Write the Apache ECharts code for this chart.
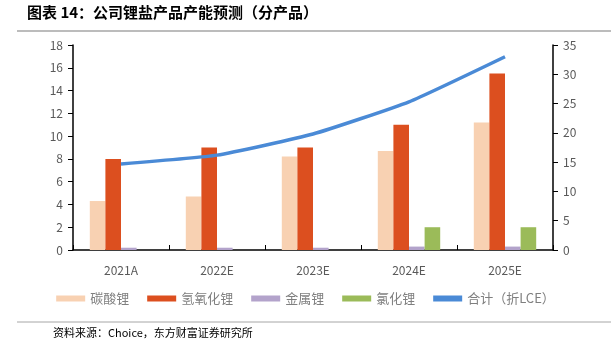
<!DOCTYPE html>
<html>
<head>
<meta charset="utf-8">
<script src="https://cdn.jsdelivr.net/npm/echarts@6/dist/echarts.min.js"></script>
<style>
  html, body { margin: 0; padding: 0; background: #fff; }
  #chart { width: 611px; height: 353px; }
</style>
</head>
<body>
<div id="chart"></div>
<script>
const categories = ['2021A', '2022E', '2023E', '2024E', '2025E'];
const carbonate = [4.3, 4.7, 8.2, 8.7, 11.2];   // 碳酸锂
const hydroxide = [8.0, 9.0, 9.0, 11.0, 15.5];  // 氢氧化锂
const metal = [0.2, 0.2, 0.2, 0.3, 0.3];        // 金属锂
const chloride = [0, 0, 0, 2.0, 2.0];           // 氯化锂
const totalLCE = [14.7, 16.2, 19.8, 25.3, 33.0];// 合计（折LCE）
const leftTicks = { min: 0, max: 18, interval: 2 };
const rightTicks = { min: 0, max: 35, interval: 5 };

const chart = echarts.init(document.getElementById('chart'));
const font = '"Noto Sans CJK SC", "Microsoft YaHei", sans-serif';
const axisColor = '#000';
const labelColor = '#595959';

const barSeries = (name, data, color) => ({
  name, type: 'bar', data, yAxisIndex: 0,
  barGap: '0%', barCategoryGap: '35%',
  itemStyle: { color },
  emphasis: { disabled: true }
});

chart.setOption({
  animation: false,
  textStyle: { fontFamily: font },
  graphic: [
    { type: 'text', left: 27, top: 5, style: { text: '图表 14：公司锂盐产品产能预测（分产品）', font: 'bold 15px ' + font, fill: '#000' } },
    { type: 'line', shape: { x1: 17, y1: 31, x2: 611, y2: 31 }, style: { stroke: '#a6a6a6', lineWidth: 1.5 } },
    { type: 'line', shape: { x1: 17, y1: 322, x2: 611, y2: 322 }, style: { stroke: '#a6a6a6', lineWidth: 1 } },
    { type: 'text', left: 53, top: 327, style: { text: '资料来源：Choice，东方财富证券研究所', font: '11px ' + font, fill: '#000' } }
  ],
  grid: { left: 73, right: 58, top: 45, bottom: 103 },
  legend: {
    bottom: 43, left: 'center', itemGap: 18,
    itemWidth: 29, itemHeight: 6,
    textStyle: { color: '#7f7f7f', fontSize: 13 },
    data: [
      { name: '碳酸锂', icon: 'rect' },
      { name: '氢氧化锂', icon: 'rect' },
      { name: '金属锂', icon: 'rect' },
      { name: '氯化锂', icon: 'rect' },
      { name: '合计（折LCE）', icon: 'rect', itemStyle: { color: '#4a8ad6' } }
    ]
  },
  xAxis: {
    type: 'category', data: categories,
    axisLine: { lineStyle: { color: axisColor, width: 1.5 } },
    axisTick: { show: true, inside: true, length: 5, lineStyle: { color: axisColor } },
    axisLabel: { color: labelColor, fontSize: 12, margin: 14 }
  },
  yAxis: [
    {
      type: 'value', position: 'left', ...leftTicks,
      axisLine: { show: true, lineStyle: { color: axisColor, width: 1.5 } },
      axisTick: { show: true, length: 5, lineStyle: { color: axisColor } },
      axisLabel: { color: labelColor, fontSize: 12, margin: 10 },
      splitLine: { show: false }
    },
    {
      type: 'value', position: 'right', ...rightTicks,
      axisLine: { show: true, lineStyle: { color: axisColor, width: 1.5 } },
      axisTick: { show: true, length: 5, lineStyle: { color: axisColor } },
      axisLabel: { color: labelColor, fontSize: 12, margin: 10 },
      splitLine: { show: false }
    }
  ],
  series: [
    barSeries('碳酸锂', carbonate, '#f8d1b2'),
    barSeries('氢氧化锂', hydroxide, '#dc4f1f'),
    barSeries('金属锂', metal, '#b3a3cb'),
    barSeries('氯化锂', chloride, '#9bbb59'),
    {
      name: '合计（折LCE）', type: 'line', yAxisIndex: 1, data: totalLCE,
      smooth: 0.15, symbol: 'none',
      lineStyle: { color: '#4a8ad6', width: 3.5 },
      itemStyle: { color: '#4a8ad6' }
    }
  ]
});
</script>
</body>
</html>
